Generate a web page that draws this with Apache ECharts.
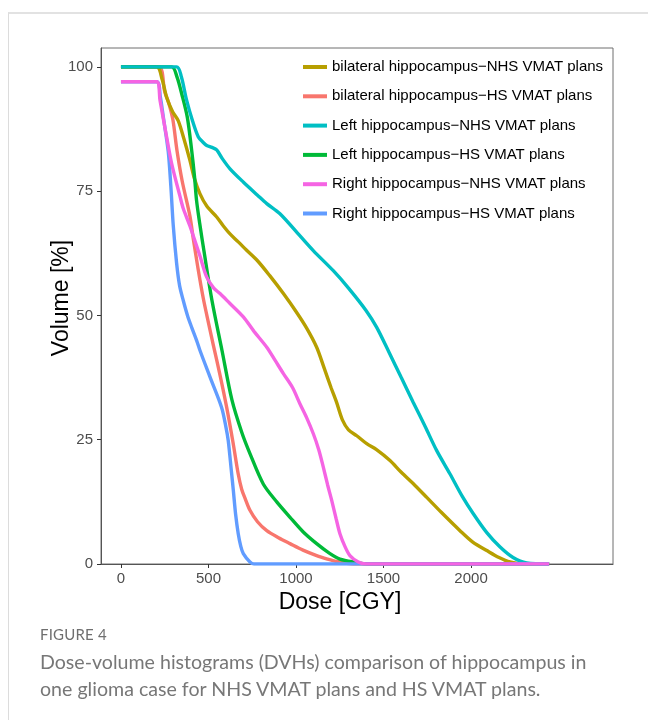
<!DOCTYPE html>
<html>
<head>
<meta charset="utf-8">
<script src="https://cdn.jsdelivr.net/npm/echarts@6/dist/echarts.min.js"></script>
<style>
  html, body { margin: 0; padding: 0; background: #fff; }
  #page { position: relative; width: 648px; height: 720px; overflow: hidden; }
  .card { position: absolute; left: 8px; top: 12px; right: -10px; bottom: -10px;
          border-top: 2px solid #e2e2e2; border-left: 1px solid #dcdcdc; }
  #main { position: absolute; left: 0; top: 0; width: 648px; height: 720px; }
  .figlabel { position: absolute; left: 40px; top: 625px; font-family: Lato, sans-serif;
              font-size: 15px; color: #6f6f6f; letter-spacing: 0.2px; }
  .caption { position: absolute; left: 40px; top: 648px; width: 600px; font-family: Lato, sans-serif;
             font-size: 19.6px; line-height: 27px; color: #777; white-space: nowrap; }
</style>
</head>
<body>
<div id="page">
  <div class="card"></div>
  <div id="main"></div>
  <div class="figlabel">FIGURE 4</div>
  <div class="caption">Dose-volume histograms (DVHs) comparison of hippocampus in<br>one glioma case for NHS VMAT plans and HS VMAT plans.</div>
</div>
<script>
// [dose (cGy), volume (%)]
var bilateralHS = [[0,100],[215,100],[250,95],[275,92.5],[297,89.3],[320,83.2],[350,77],[394,70],[413,65.5],[440,59.5],
  [470,53.5],[500,48.5],[528,44],[566,38],[604,31.5],[640,24.5],[670,18.1],[690,15],[709,13.2],[737,10.8],[780,8.5],
  [833,6.7],[900,5.3],[966,4.1],[1040,2.8],[1118,1.7],[1180,1.0],[1232,0.5],[1300,0.1],[1350,0],[2446,0]];
var bilateralNHS = [[0,100],[204,100],[235,97.5],[261,93.9],[295,91],[327,89.2],[360,85.5],[394,81.2],[420,77.5],[451,74.5],
  [490,72],[547,69.8],[585,68],[623,66.4],[670,64.8],[718,63.1],[780,61],[850,58],[928,54.4],[1000,50.8],[1060,47.5],
  [1118,43.6],[1160,39.5],[1200,35.5],[1232,32.5],[1265,29],[1300,27],[1347,25.8],[1404,24.2],[1460,23],[1537,20.8],
  [1600,18.5],[1680,15.8],[1747,13.4],[1830,10.4],[1937,6.7],[2010,4.4],[2090,2.7],[2160,1.3],[2223,0.4],[2300,0],[2446,0]];
var leftHS = [[0,100],[290,100],[320,98],[347,94.6],[379,89.9],[404,83.2],[420,78],[432,73.1],[450,68.5],[474,63],
  [520,53],[577,43],[634,33],[690,26.5],[737,22.2],[813,16.1],[890,12.5],[966,9.4],[1040,6.5],[1118,4.1],[1190,2.2],
  [1251,1.0],[1347,0.3],[1400,0],[2446,0]];
var leftNHS = [[0,100],[318,100],[345,98],[375,93.3],[410,89],[442,85.9],[470,84.8],[490,84.2],[520,83.8],[547,83.3],
  [580,81.5],[623,79.5],[700,76.8],[780,74.2],[833,72.5],[907,70.5],[1023,66],[1100,63],[1213,59],[1300,55.5],
  [1400,51],[1461,47.6],[1530,42.7],[1600,37.6],[1670,32.5],[1740,27.5],[1804,22.8],[1880,18.1],[1950,13.6],[2013,10.1],
  [2090,6.3],[2166,3.4],[2240,1.3],[2318,0.2],[2446,0]];
var rightHS = [[0,97],[204,97],[225,94],[242,89.9],[270,83],[285,76],[299,68],[318,60.5],[335,56],[356,53],[380,50],
  [404,47.6],[432,45],[451,43],[509,37.6],[575,31.5],[600,27.5],[613,24.8],[630,19],[642,14.8],[655,10],[670,6.1],
  [685,3.5],[699,2.1],[737,0.4],[760,0],[2446,0]];
var rightNHS = [[0,97],[204,97],[223,93.3],[261,85.9],[290,80.5],[337,74],[356,71.5],[394,68],[432,64],[451,62],
  [490,57.7],[530,55.5],[566,54.4],[620,52.5],[699,49.7],[760,46.8],[833,43.6],[880,41],[928,38.3],[980,35.5],
  [1023,32.2],[1060,29.5],[1099,26.2],[1130,23],[1156,19.5],[1180,16],[1204,12.8],[1230,9],[1251,6.1],[1280,3.5],
  [1308,1.7],[1356,0.4],[1400,0],[2446,0]];

var xTicks = [0, 500, 1000, 1500, 2000];
var yTicks = [0, 25, 50, 75, 100];

var names = {
  bNHS: 'bilateral hippocampus\u2212NHS VMAT plans',
  bHS: 'bilateral hippocampus\u2212HS VMAT plans',
  lNHS: 'Left hippocampus\u2212NHS VMAT plans',
  lHS: 'Left hippocampus\u2212HS VMAT plans',
  rNHS: 'Right hippocampus\u2212NHS VMAT plans',
  rHS: 'Right hippocampus\u2212HS VMAT plans'
};

var font = '"Liberation Sans", Arial, sans-serif';

function line(name, data, color) {
  return {
    name: name, type: 'line', data: data, color: color,
    showSymbol: false, smooth: 0.3,
    lineStyle: { width: 3.4, color: color },
    emphasis: { disabled: true }
  };
}

function plain(v) { return String(v); }

var chart = echarts.init(document.getElementById('main'), null, { renderer: 'canvas' });
chart.setOption({
  animation: false,
  backgroundColor: 'transparent',
  grid: { left: 101, top: 48, width: 512, height: 516, show: true, borderColor: '#6e6e6e', borderWidth: 1,
          containLabel: false },
  legend: {
    orient: 'vertical', left: 303, top: 58, padding: 0, icon: 'rect', itemWidth: 24, itemHeight: 4, itemGap: 11.3,
    data: [names.bNHS, names.bHS, names.lNHS, names.lHS, names.rNHS, names.rHS],
    textStyle: { fontFamily: font, fontSize: 15, color: '#000', lineHeight: 18 }
  },
  // axis titles
  graphic: [
    { type: 'text', x: 340, y: 603, silent: true,
      style: { text: 'Dose [CGY]', font: '23px ' + font, fill: '#000', align: 'center', verticalAlign: 'middle' } },
    { type: 'text', x: 62, y: 298, rotation: Math.PI / 2, silent: true,
      style: { text: 'Volume [%]', font: '23px ' + font, fill: '#000', align: 'center', verticalAlign: 'middle' } }
  ],
  xAxis: {
    type: 'value', min: -114, max: 2811,
    axisLine: { show: true, lineStyle: { color: '#555', width: 1 } },
    axisTick: { show: true, length: 4, lineStyle: { color: '#333' }, customValues: xTicks },
    axisLabel: { fontFamily: font, fontSize: 15, color: '#4d4d4d', margin: 7, customValues: xTicks, formatter: plain },
    splitLine: { show: false }
  },
  yAxis: {
    type: 'value', min: 0, max: 103.8,
    axisLine: { show: true, onZero: false, lineStyle: { color: '#555', width: 1 } },
    axisTick: { show: true, length: 4, lineStyle: { color: '#333' }, customValues: yTicks },
    axisLabel: { fontFamily: font, fontSize: 15, color: '#4d4d4d', margin: 8, customValues: yTicks, formatter: plain },
    splitLine: { show: false }
  },
  series: [
    line(names.bHS, bilateralHS, '#F8766D'),
    line(names.bNHS, bilateralNHS, '#B79F00'),
    line(names.lHS, leftHS, '#00BA38'),
    line(names.lNHS, leftNHS, '#00BFC4'),
    line(names.rHS, rightHS, '#619CFF'),
    line(names.rNHS, rightNHS, '#F564E3')
  ]
});
</script>
</body>
</html>
